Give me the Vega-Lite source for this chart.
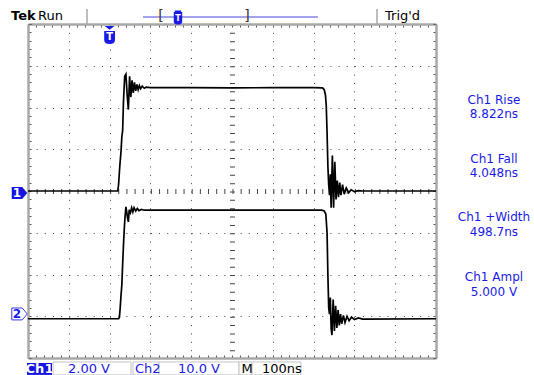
{
  "$schema": "https://vega.github.io/schema/vega-lite/v6.json",
  "width": 408,
  "height": 334,
  "autosize": "none",
  "padding": {"left": 28, "top": 24, "right": 98, "bottom": 17},
  "background": "white",
  "config": {"view": {"stroke": null}},
  "datasets": {
    "ch1": [
      {"t": -200, "v": 0}, {"t": 20, "v": 0}, {"t": 22, "v": 0.3}, {"t": 25, "v": 1.2}, {"t": 28, "v": 1.9}, {"t": 30, "v": 2.6}, {"t": 32, "v": 2.9}, {"t": 34, "v": 4.3}, {"t": 37, "v": 5.5}, {"t": 40, "v": 5.6}, {"t": 43, "v": 4.6}, {"t": 46, "v": 3.9}, {"t": 49, "v": 5.5}, {"t": 52, "v": 4.5}, {"t": 55, "v": 5.3}, {"t": 58, "v": 4.7}, {"t": 61, "v": 5.2}, {"t": 64, "v": 4.8}, {"t": 67, "v": 5.1}, {"t": 70, "v": 4.85}, {"t": 73, "v": 5.05}, {"t": 76, "v": 4.9}, {"t": 80, "v": 5.02}, {"t": 85, "v": 4.92}, {"t": 90, "v": 4.98}, {"t": 100, "v": 4.95}, {"t": 200, "v": 4.95}, {"t": 300, "v": 4.94}, {"t": 400, "v": 4.95}, {"t": 500, "v": 4.95}, {"t": 522, "v": 4.94}, {"t": 526, "v": 4.85}, {"t": 529, "v": 4.6}, {"t": 531, "v": 4.1}, {"t": 533, "v": 2.8}, {"t": 535, "v": 1.2}, {"t": 537, "v": 0.3}, {"t": 539, "v": -0.2}, {"t": 541, "v": 0.8}, {"t": 543, "v": -0.8}, {"t": 546, "v": 1.7}, {"t": 549, "v": -0.8}, {"t": 552, "v": 1.4}, {"t": 555, "v": -0.4}, {"t": 558, "v": 0.5}, {"t": 561, "v": -0.3}, {"t": 564, "v": 0.4}, {"t": 567, "v": -0.2}, {"t": 571, "v": 0.3}, {"t": 575, "v": -0.15}, {"t": 580, "v": 0.15}, {"t": 586, "v": -0.08}, {"t": 592, "v": 0.06}, {"t": 600, "v": -0.03}, {"t": 610, "v": 0.02}, {"t": 620, "v": 0}, {"t": 800, "v": 0}
    ],
    "ch2": [
      {"t": -200, "v": -0.6}, {"t": 22, "v": -0.6}, {"t": 24, "v": -0.3}, {"t": 26, "v": 2}, {"t": 28, "v": 5}, {"t": 30, "v": 7.5}, {"t": 32, "v": 12.5}, {"t": 34, "v": 17}, {"t": 36, "v": 21}, {"t": 38, "v": 24}, {"t": 40, "v": 26.2}, {"t": 42, "v": 25}, {"t": 44, "v": 23.5}, {"t": 46, "v": 22.6}, {"t": 48, "v": 25.5}, {"t": 51, "v": 24.8}, {"t": 54, "v": 26}, {"t": 57, "v": 25}, {"t": 60, "v": 26}, {"t": 64, "v": 25.2}, {"t": 68, "v": 25.8}, {"t": 72, "v": 25.3}, {"t": 78, "v": 25.6}, {"t": 85, "v": 25.4}, {"t": 200, "v": 25.4}, {"t": 400, "v": 25.4}, {"t": 520, "v": 25.4}, {"t": 526, "v": 25.2}, {"t": 530, "v": 24.5}, {"t": 533, "v": 20}, {"t": 535, "v": 10}, {"t": 537, "v": 2}, {"t": 539, "v": 0.5}, {"t": 541, "v": 4.5}, {"t": 543, "v": -3}, {"t": 545, "v": -4.5}, {"t": 548, "v": 4}, {"t": 551, "v": -3.5}, {"t": 554, "v": 2.5}, {"t": 557, "v": -2.8}, {"t": 560, "v": 1.5}, {"t": 563, "v": -2.2}, {"t": 566, "v": 0.5}, {"t": 569, "v": -1.8}, {"t": 573, "v": 0.2}, {"t": 577, "v": -1.5}, {"t": 582, "v": 0}, {"t": 587, "v": -1.1}, {"t": 593, "v": -0.2}, {"t": 600, "v": -0.8}, {"t": 610, "v": -0.4}, {"t": 620, "v": -0.7}, {"t": 800, "v": -0.6}
    ],
    "blackText": [
      {"t": -175.5, "v": 8.36, "label": "Run"},
      {"t": 675, "v": 8.36, "label": "Trig'd"},
      {"t": 323.5, "v": -8.53, "label": "M"},
      {"t": 373.5, "v": -8.53, "label": "100ns"}
    ],
    "boldText": [
      {"t": -241.7, "v": 8.36, "label": "Tek"}
    ],
    "blueText": [
      {"t": -102, "v": -8.53, "label": "2.00 V"},
      {"t": 62.3, "v": -8.53, "label": "Ch2"},
      {"t": 167.6, "v": -8.53, "label": "10.0 V"}
    ],
    "measure": [
      {"t": 942, "v": 4.36, "label": "Ch1 Rise"},
      {"t": 942, "v": 3.67, "label": "8.822ns"},
      {"t": 942, "v": 1.52, "label": "Ch1 Fall"},
      {"t": 942, "v": 0.86, "label": "4.048ns"},
      {"t": 942, "v": -1.25, "label": "Ch1 +Width"},
      {"t": 942, "v": -1.96, "label": "498.7ns"},
      {"t": 942, "v": -4.14, "label": "Ch1 Ampl"},
      {"t": 942, "v": -4.83, "label": "5.000 V"}
    ],
    "boxes": [
      {"t": -138.7, "t2": 52.5, "v": -8.19, "v2": -8.81},
      {"t": 57.4, "t2": 121.1, "v": -8.19, "v2": -8.81},
      {"t": 121.1, "t2": 317.2, "v": -8.19, "v2": -8.81},
      {"t": 317.2, "t2": 349, "v": -8.19, "v2": -8.81},
      {"t": 349, "t2": 469.1, "v": -8.19, "v2": -8.81}
    ],
    "ch1box": [
      {"t": -202.5, "t2": -141.2, "v": -8.24, "v2": -8.81, "label": "Ch1", "tc": -171.8, "vc": -8.53}
    ],
    "seps": [
      {"t": -55.4, "v": 8.0, "v2": 8.72},
      {"t": 655.4, "v": 8.0, "v2": 8.72}
    ],
    "bar": [
      {"t": 81.9, "t2": 510.8, "v": 8.335}
    ],
    "brackets": [
      {"t": 126, "v": 8.36, "label": "["},
      {"t": 336.8, "v": 8.36, "label": "]"}
    ],
    "trig": [
      {"t": 0, "v": 7.47, "tv": 7.36, "label": "T"}
    ],
    "trigTop": [
      {"t": 167.6, "v": 8.31, "tv": 8.26, "label": "T"}
    ],
    "m1": [
      {"t": -220.8, "v": -0.1, "tl": -227, "label": "1"}
    ],
    "m2": [
      {"t": -220.8, "v": 0.55, "tl": -227, "label": "2"}
    ]
  },
  "resolve": {"scale": {"y": "independent"}, "axis": {"x": "independent", "y": "independent"}},
  "layer": [
    {
      "data": {"name": "ch1"},
      "mark": {"type": "line", "color": "black", "strokeWidth": 1.7, "clip": true},
      "encoding": {
        "x": {
          "field": "t", "type": "quantitative",
          "scale": {"domain": [-200, 800], "nice": false, "zero": false},
          "axis": {
            "orient": "bottom", "title": null, "labels": false,
            "values": [-200,-180,-160,-140,-120,-100,-80,-60,-40,-20,0,20,40,60,80,100,120,140,160,180,200,220,240,260,280,300,320,340,360,380,400,420,440,460,480,500,520,540,560,580,600,620,640,660,680,700,720,740,760,780,800],
            "domainColor": "#a8a8a8", "domainWidth": 2.5,
            "ticks": true, "tickColor": "#555555", "tickSize": -3, "tickWidth": 1,
            "grid": true, "gridColor": "#444444", "gridDash": [1, 7.35],
            "gridOpacity": {"condition": {"test": "datum.value % 100 === 0 && datum.value > -200 && datum.value < 800", "value": 1}, "value": 0},
            "gridWidth": {"condition": {"test": "datum.value === 300", "value": 5}, "value": 1}
          }
        },
        "y": {
          "field": "v", "type": "quantitative",
          "scale": {"domain": [-8, 8], "nice": false, "zero": false},
          "axis": {
            "orient": "left", "title": null, "labels": false,
            "values": [-8,-7.6,-7.2,-6.8,-6.4,-6,-5.6,-5.2,-4.8,-4.4,-4,-3.6,-3.2,-2.8,-2.4,-2,-1.6,-1.2,-0.8,-0.4,0,0.4,0.8,1.2,1.6,2,2.4,2.8,3.2,3.6,4,4.4,4.8,5.2,5.6,6,6.4,6.8,7.2,7.6,8],
            "domainColor": "#a8a8a8", "domainWidth": 2.5,
            "ticks": true, "tickColor": "#555555", "tickSize": -3, "tickWidth": 1,
            "grid": true, "gridColor": "#444444", "gridDash": [1, 7.16],
            "gridOpacity": {"condition": {"test": "datum.value % 2 === 0 && datum.value > -8 && datum.value < 8", "value": 1}, "value": 0},
            "gridWidth": {"condition": {"test": "datum.value === 0", "value": 5}, "value": 1}
          }
        }
      }
    },
    {
      "data": {"name": "ch2"},
      "mark": {"type": "line", "color": "black", "strokeWidth": 1.7, "clip": true},
      "encoding": {
        "x": {
          "field": "t", "type": "quantitative",
          "axis": {
            "orient": "top", "title": null, "labels": false,
            "values": [-200,-180,-160,-140,-120,-100,-80,-60,-40,-20,0,20,40,60,80,100,120,140,160,180,200,220,240,260,280,300,320,340,360,380,400,420,440,460,480,500,520,540,560,580,600,620,640,660,680,700,720,740,760,780,800],
            "domainColor": "#a8a8a8", "domainWidth": 2.5,
            "ticks": true, "tickColor": "#555555", "tickSize": -3, "tickWidth": 1, "grid": false
          }
        },
        "y": {
          "field": "v", "type": "quantitative",
          "scale": {"domain": [-10, 70], "nice": false, "zero": false},
          "axis": {
            "orient": "right", "title": null, "labels": false,
            "values": [-10,-8,-6,-4,-2,0,2,4,6,8,10,12,14,16,18,20,22,24,26,28,30,32,34,36,38,40,42,44,46,48,50,52,54,56,58,60,62,64,66,68,70],
            "domainColor": "#a8a8a8", "domainWidth": 2.5,
            "ticks": true, "tickColor": "#555555", "tickSize": -3, "tickWidth": 1, "grid": false
          }
        }
      }
    },
    {
      "data": {"name": "boxes"},
      "mark": {"type": "rect", "fill": "white", "stroke": "#c4c4c4", "strokeWidth": 1},
      "encoding": {
        "x": {"field": "t", "type": "quantitative", "axis": null},
        "x2": {"field": "t2"},
        "y": {"field": "v", "type": "quantitative", "scale": {"domain": [-8, 8], "nice": false, "zero": false}, "axis": null},
        "y2": {"field": "v2"}
      }
    },
    {
      "data": {"name": "ch1box"},
      "mark": {"type": "rect", "fill": "#1515e0"},
      "encoding": {
        "x": {"field": "t", "type": "quantitative", "axis": null},
        "x2": {"field": "t2"},
        "y": {"field": "v", "type": "quantitative", "scale": {"domain": [-8, 8], "nice": false, "zero": false}, "axis": null},
        "y2": {"field": "v2"}
      }
    },
    {
      "data": {"name": "ch1box"},
      "mark": {"type": "text", "color": "white", "font": "DejaVu Sans", "fontSize": 13, "fontWeight": "bold", "align": "center", "baseline": "middle"},
      "encoding": {
        "x": {"field": "tc", "type": "quantitative", "axis": null},
        "y": {"field": "vc", "type": "quantitative", "scale": {"domain": [-8, 8], "nice": false, "zero": false}, "axis": null},
        "text": {"field": "label"}
      }
    },
    {
      "data": {"name": "seps"},
      "mark": {"type": "rule", "color": "#a8a8a8", "strokeWidth": 1.5},
      "encoding": {
        "x": {"field": "t", "type": "quantitative", "axis": null},
        "y": {"field": "v", "type": "quantitative", "scale": {"domain": [-8, 8], "nice": false, "zero": false}, "axis": null},
        "y2": {"field": "v2"}
      }
    },
    {
      "data": {"name": "bar"},
      "mark": {"type": "rule", "color": "#4646dc", "strokeWidth": 1},
      "encoding": {
        "x": {"field": "t", "type": "quantitative", "axis": null},
        "x2": {"field": "t2"},
        "y": {"field": "v", "type": "quantitative", "scale": {"domain": [-8, 8], "nice": false, "zero": false}, "axis": null}
      }
    },
    {
      "data": {"name": "brackets"},
      "mark": {"type": "text", "color": "#333333", "font": "DejaVu Sans", "fontSize": 14, "align": "center", "baseline": "middle"},
      "encoding": {
        "x": {"field": "t", "type": "quantitative", "axis": null},
        "y": {"field": "v", "type": "quantitative", "scale": {"domain": [-8, 8], "nice": false, "zero": false}, "axis": null},
        "text": {"field": "label"}
      }
    },
    {
      "data": {"name": "blackText"},
      "mark": {"type": "text", "color": "black", "font": "DejaVu Sans", "fontSize": 13, "align": "left", "baseline": "middle"},
      "encoding": {
        "x": {"field": "t", "type": "quantitative", "axis": null},
        "y": {"field": "v", "type": "quantitative", "scale": {"domain": [-8, 8], "nice": false, "zero": false}, "axis": null},
        "text": {"field": "label"}
      }
    },
    {
      "data": {"name": "boldText"},
      "mark": {"type": "text", "color": "black", "font": "DejaVu Sans", "fontSize": 13, "fontWeight": "bold", "letterSpacing": -1, "align": "left", "baseline": "middle"},
      "encoding": {
        "x": {"field": "t", "type": "quantitative", "axis": null},
        "y": {"field": "v", "type": "quantitative", "scale": {"domain": [-8, 8], "nice": false, "zero": false}, "axis": null},
        "text": {"field": "label"}
      }
    },
    {
      "data": {"name": "blueText"},
      "mark": {"type": "text", "color": "#1a1ae6", "font": "DejaVu Sans", "fontSize": 13, "align": "left", "baseline": "middle"},
      "encoding": {
        "x": {"field": "t", "type": "quantitative", "axis": null},
        "y": {"field": "v", "type": "quantitative", "scale": {"domain": [-8, 8], "nice": false, "zero": false}, "axis": null},
        "text": {"field": "label"}
      }
    },
    {
      "data": {"name": "measure"},
      "mark": {"type": "text", "color": "#1a1ae6", "font": "DejaVu Sans", "fontSize": 12, "align": "center", "baseline": "middle"},
      "encoding": {
        "x": {"field": "t", "type": "quantitative", "axis": null},
        "y": {"field": "v", "type": "quantitative", "scale": {"domain": [-8, 8], "nice": false, "zero": false}, "axis": null},
        "text": {"field": "label"}
      }
    },
    {
      "data": {"name": "trig"},
      "mark": {"type": "point", "filled": true, "color": "#1a1ae6", "opacity": 1, "size": 324, "shape": "M-0.55,-1H0.55L0,-0.6Z M-0.6,-0.45H0.6V0.55Q0.6,1 0,1Q-0.6,1 -0.6,0.55Z"},
      "encoding": {
        "x": {"field": "t", "type": "quantitative", "axis": null},
        "y": {"field": "v", "type": "quantitative", "scale": {"domain": [-8, 8], "nice": false, "zero": false}, "axis": null}
      }
    },
    {
      "data": {"name": "trig"},
      "mark": {"type": "text", "color": "white", "font": "DejaVu Sans", "fontSize": 10, "fontWeight": "bold", "align": "center", "baseline": "middle"},
      "encoding": {
        "x": {"field": "t", "type": "quantitative", "axis": null},
        "y": {"field": "tv", "type": "quantitative", "scale": {"domain": [-8, 8], "nice": false, "zero": false}, "axis": null},
        "text": {"field": "label"}
      }
    },
    {
      "data": {"name": "trigTop"},
      "mark": {"type": "point", "filled": true, "color": "#1a1ae6", "opacity": 1, "size": 196, "shape": "M-0.45,-1H0.45V-0.8H0.6V0.55Q0.6,1 0,1Q-0.6,1 -0.6,0.55V-0.8H-0.45Z"},
      "encoding": {
        "x": {"field": "t", "type": "quantitative", "axis": null},
        "y": {"field": "v", "type": "quantitative", "scale": {"domain": [-8, 8], "nice": false, "zero": false}, "axis": null}
      }
    },
    {
      "data": {"name": "trigTop"},
      "mark": {"type": "text", "color": "white", "font": "DejaVu Sans", "fontSize": 8, "fontWeight": "bold", "align": "center", "baseline": "middle"},
      "encoding": {
        "x": {"field": "t", "type": "quantitative", "axis": null},
        "y": {"field": "tv", "type": "quantitative", "scale": {"domain": [-8, 8], "nice": false, "zero": false}, "axis": null},
        "text": {"field": "label"}
      }
    },
    {
      "data": {"name": "m1"},
      "mark": {"type": "point", "filled": true, "color": "#1515e0", "opacity": 1, "size": 240, "shape": "M-1,-0.77H0.35L1,0L0.35,0.77H-1Z"},
      "encoding": {
        "x": {"field": "t", "type": "quantitative", "axis": null},
        "y": {"field": "v", "type": "quantitative", "scale": {"domain": [-8, 8], "nice": false, "zero": false}, "axis": null}
      }
    },
    {
      "data": {"name": "m1"},
      "mark": {"type": "text", "color": "white", "font": "DejaVu Sans", "fontSize": 12, "fontWeight": "bold", "align": "center", "baseline": "middle"},
      "encoding": {
        "x": {"field": "tl", "type": "quantitative", "axis": null},
        "y": {"field": "v", "type": "quantitative", "scale": {"domain": [-8, 8], "nice": false, "zero": false}, "axis": null},
        "text": {"field": "label"}
      }
    },
    {
      "data": {"name": "m2"},
      "mark": {"type": "point", "filled": false, "fill": "white", "stroke": "#3a3ae6", "strokeWidth": 1, "opacity": 1, "size": 240, "shape": "M-1,-0.77H0.35L1,0L0.35,0.77H-1Z"},
      "encoding": {
        "x": {"field": "t", "type": "quantitative", "axis": null},
        "y": {"field": "v", "type": "quantitative", "scale": {"domain": [-10, 70], "nice": false, "zero": false}, "axis": null}
      }
    },
    {
      "data": {"name": "m2"},
      "mark": {"type": "text", "color": "#1a1ae6", "font": "DejaVu Sans", "fontSize": 12, "fontWeight": "bold", "align": "center", "baseline": "middle"},
      "encoding": {
        "x": {"field": "tl", "type": "quantitative", "axis": null},
        "y": {"field": "v", "type": "quantitative", "scale": {"domain": [-10, 70], "nice": false, "zero": false}, "axis": null},
        "text": {"field": "label"}
      }
    }
  ]
}
